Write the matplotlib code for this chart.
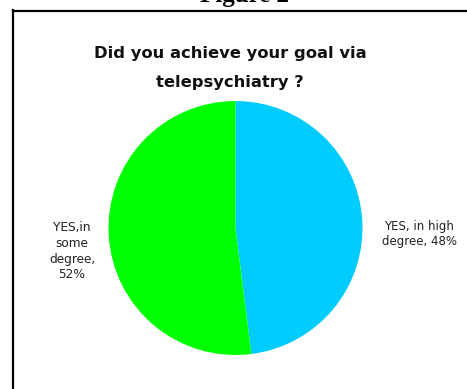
import matplotlib
matplotlib.use("Agg")
import matplotlib.pyplot as plt
from matplotlib.lines import Line2D

# Survey answers
answers = ["YES, in high\ndegree", "YES,in\nsome\ndegree"]
shares = [48, 52]
colors = ["#00CCFF", "#00FF00"]

W, H = 467, 389
fig = plt.figure(figsize=(W / 100, H / 100), dpi=100)
fig.patch.set_facecolor("white")

# Axes in pixel units (y measured upward)
ax = fig.add_axes([0, 0, 1, 1])
cx, cy, r = 235.5, H - 228, 127
ax.pie(shares, colors=colors, startangle=90, counterclock=False,
       center=(cx, cy), radius=r, frame=True,
       wedgeprops=dict(linewidth=0))
ax.set_xlim(0, W)
ax.set_ylim(0, H)
ax.set_aspect("equal")
ax.axis("off")

# Frame around the chart
fig.add_artist(Line2D([12.5 / W, 12.5 / W], [0, 1 - 10 / H], transform=fig.transFigure,
                      color="black", lw=1.6))
fig.add_artist(Line2D([12.5 / W, 1], [1 - 10.5 / H, 1 - 10.5 / H], transform=fig.transFigure,
                      color="black", lw=1.6))

# Caption above the frame (cut at the top edge)
ax.text(245, H - 1.5, "Figure 2", ha="center", va="baseline", fontsize=18,
        fontweight="bold", family="Liberation Serif", color="black")

# Title
ax.text(230, H - 53, "Did you achieve your goal via", ha="center", va="center",
        fontsize=11.8, fontweight="bold", family="DejaVu Sans", color="#111111")
ax.text(230, H - 82, "telepsychiatry ?", ha="center", va="center",
        fontsize=11.8, fontweight="bold", family="DejaVu Sans", color="#111111")

# Slice labels
ax.text(419, H - 234, f"{answers[0]}, {shares[0]}%", ha="center", va="center",
        fontsize=8.5, family="DejaVu Sans", color="#222222", linespacing=1.2)
ax.text(72, H - 251, f"{answers[1]},\n{shares[1]}%", ha="center", va="center",
        fontsize=8.7, family="DejaVu Sans", color="#222222", linespacing=1.3)

fig.savefig("out.png", dpi=100)
